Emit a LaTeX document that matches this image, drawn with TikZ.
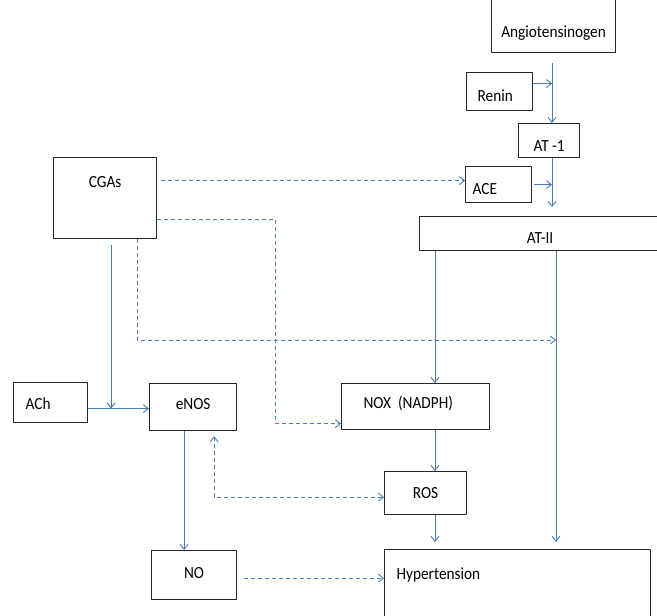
\documentclass[tikz,border=0pt]{standalone}
\usepackage{fontspec}
\setmainfont{Carlito}[FakeStretch=0.9]
\usetikzlibrary{arrows.meta}
\definecolor{linkblue}{HTML}{4A7EBB}
\tikzset{box/.style={draw=black!85,line width=1.2pt,inner xsep=0pt,inner ysep=0pt,anchor=north west},
  lbox/.style={box,align=left},
  link/.style={draw=linkblue,line width=0.9pt,->},
  dlink/.style={link,dash pattern=on 4pt off 3pt}}

\begin{document}
\begin{tikzpicture}[x=1pt,y=-1pt,>={Straight Barb[length=5pt,width=8pt]},line join=round,font=\fontsize{17pt}{20pt}\selectfont]
\useasboundingbox (0,0) rectangle (657,616);
% --- boxes
\node[box,minimum width=124pt,text height=43pt,text depth=15pt] (ang) at (491,-6) {Angiotensinogen};
\node[lbox,inner xsep=11pt,text width=44pt,text height=29pt,text depth=9pt] (ren) at (466,72) {Renin};
\node[box,minimum width=61pt,text height=28pt,text depth=6pt] (at1) at (518,123) {AT -1};
\node[lbox,inner xsep=7pt,text width=52pt,text height=28pt,text depth=8pt] (ace) at (465,166) {ACE};
\node[box,minimum width=241pt,text height=27pt,text depth=7pt] (at2) at (419,216) {AT-II};
\node[box,minimum width=103pt,text height=30pt,text depth=51pt] (cgas) at (53,157) {CGAs};
\node[lbox,inner xsep=12pt,text width=50pt,text height=27pt,text depth=13pt] (ach) at (13,382) {ACh};
\node[box,minimum width=87pt,text height=26pt,text depth=21pt] (enos) at (149,383) {eNOS};
\node[lbox,inner xsep=22pt,text width=104pt,text height=25pt,text depth=21pt] (nox) at (341,383) {NOX\hspace{7pt}(NADPH)};
\node[box,minimum width=82pt,text height=27pt,text depth=16pt] (ros) at (384,471) {ROS};
\node[box,minimum width=85pt,text height=28pt,text depth=21pt] (no) at (151,550) {NO};
\node[lbox,inner xsep=12pt,text width=242pt,text height=30pt,text depth=51pt] (hyp) at (384,549) {Hypertension};
% --- columns and joins
\coordinate (spine) at (552,0);
\coordinate (colA) at (435,0);
\coordinate (colB) at (556,0);
\coordinate (bend) at (275,219);
\coordinate (meet) at (556,340);
\coordinate (acein) at ([yshift=4pt]ace.west);
\coordinate (noxin) at ([yshift=-17pt]nox.west);
% --- renin-angiotensin chain
\draw[link,shorten <=10pt] (ang.south -| spine) -- (at1.north -| spine);
\draw[link] ([yshift=8pt]ren.east) -- ([yshift=8pt]ren.east -| spine);
\draw[link,shorten >=9pt] (at1.south -| spine) -- (at2.north -| spine);
\draw[link] ([xshift=2pt]ace.east) -- (ace.east -| spine);
\draw[link] (at2.south -| colA) -- (nox.north -| colA);
\draw[link] (nox.south -| colA) -- (ros.north -| colA);
\draw[link,shorten >=7pt] (ros.south -| colA) -- (hyp.north -| colA);
\draw[link,shorten >=7pt] (at2.south -| colB) -- (hyp.north -| colB);
% --- CGAs and eNOS side
\draw[link,shorten <=6pt] ([xshift=6pt]cgas.south) -- ([xshift=6pt,yshift=-6pt]cgas.south |- ach.east);
\draw[link] ([yshift=-6pt]ach.east) -- ([yshift=-6pt]ach.east -| enos.west);
\draw[link] ([xshift=-9pt]enos.south) -- ([xshift=-9pt]enos.south |- no.north);
% --- dashed paths
\draw[dlink,shorten <=4pt] (cgas.east |- acein) -- (acein);
\draw[dlink] (cgas.east |- bend) -- (bend) |- (noxin);
\draw[dlink] ([xshift=32pt]cgas.south) |- (meet);
\draw[dlink,<->,shorten <=5pt] ([xshift=21pt]enos.south) |- ([yshift=-4pt]ros.west);
\draw[dlink,shorten <=7pt] ([yshift=-3pt]no.east) -- ([yshift=-3pt]no.east -| hyp.west);
\end{tikzpicture}
\end{document}
